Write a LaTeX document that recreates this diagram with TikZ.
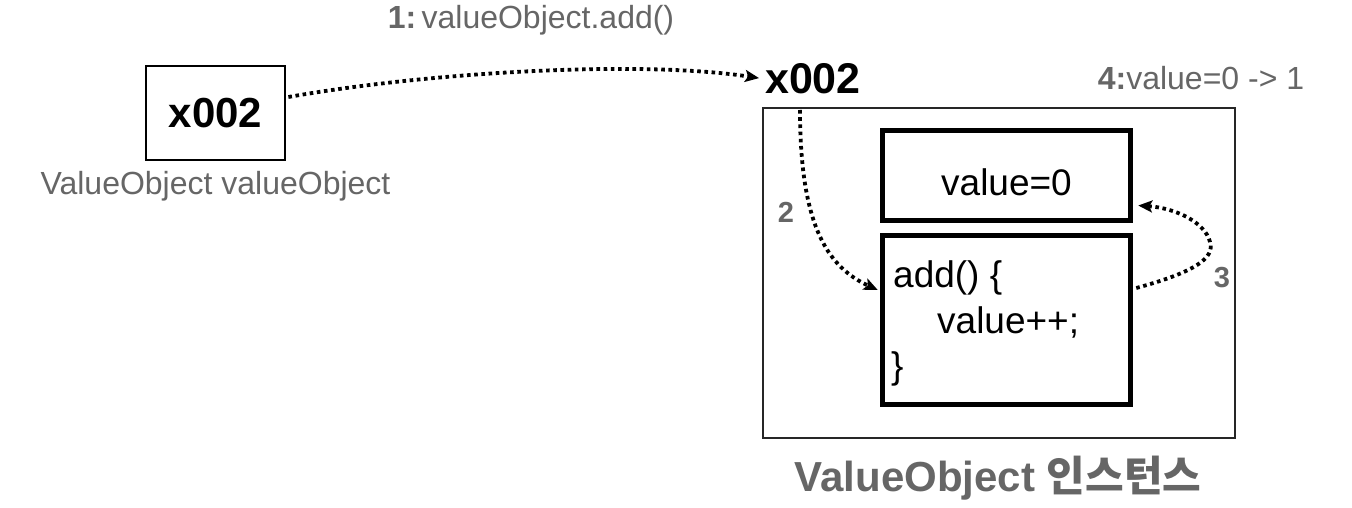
\documentclass[tikz,border=0pt]{standalone}
\usepackage{fontspec}
\setmainfont{Liberation Sans}
\newfontfamily\kr{Noto Sans CJK KR Bold}
\usetikzlibrary{arrows.meta,calc}
\definecolor{txtgray}{HTML}{666666}
\tikzset{
  thickbox/.style={draw=black, line width=5.5pt, minimum width=248pt, inner sep=0pt},
  refbox/.style={draw=black, line width=2.8pt, minimum width=139pt, minimum height=94pt, inner sep=0pt,
    font=\fontsize{42}{48}\selectfont\bfseries},
  graytxt/.style={text=txtgray, inner sep=0pt, font=\fontsize{32}{38}\selectfont},
  codetxt/.style={inner sep=0pt, font=\fontsize{37}{44}\selectfont},
  flow/.style={draw=black, line width=3.8pt, dash pattern=on 3.6pt off 3.6pt,
    -{Stealth[length=14pt,width=12pt,inset=3pt]}},
  numlbl/.style={text=txtgray, inner sep=0pt, font=\fontsize{29}{34}\selectfont\bfseries}
}
\begin{document}
\begin{tikzpicture}[x=1pt,y=-1pt]
\useasboundingbox (0,0) rectangle (1352,508);
% left reference box
\node[refbox] (ref) at (215.5,113) {x002};
\node[graytxt] (refname) at (215.5,186) {ValueObject valueObject};
% step 1 label
\node[graytxt] (lbl1) at (531,20) {\textbf{1:}\,valueObject.add()};
% address above instance
\node[inner sep=0pt, font=\fontsize{43}{48}\selectfont\bfseries] (addr) at (813,79) {x002};
\node[graytxt] (lbl4) at (1201,78) {\textbf{4:}value=0 -> 1};
% instance outer box
\node[draw=black!85, line width=1.3pt, minimum width=472pt, minimum height=330pt, inner sep=0pt] (inst) at (999,273) {};
% field box
\node[thickbox, minimum height=90pt] (val) at (1006.5,175.5) {};
\node[codetxt] (valtxt) at (1006.5,182) {value=0};
% method box
\node[thickbox, minimum height=169pt] (meth) at (1006.5,320) {};
\node[codetxt, anchor=base west] (c1) at (893,287) {add() \{};
\node[codetxt, anchor=base west] (c2) at (937,333) {value++;};
\node[codetxt, anchor=base west] (c3) at (891,378) {\}};
% title
\node[text=txtgray, inner sep=0pt, font=\fontsize{42}{48}\selectfont\bfseries] (title) at (998,478) {ValueObject {\kr 인스턴스}};
% connectors
\draw[flow, shorten >=6pt] (ref.east) ++(2,-16) coordinate (s1)
  (s1) .. controls (430,72) and (640,60) .. (addr.west);
\coordinate (s2) at (800,110);
\coordinate (e2) at ($(meth.west)+(-2,-30)$);
\draw[flow] (s2) .. controls (800,230) and (830,268) .. (e2);
\coordinate (s3) at ($(meth.east)+(3,-32)$);
\coordinate (m3) at (1210,242);
\coordinate (e3) at ($(val.east)+(5,30)$);
\draw[flow] (s3) .. controls (1195,272) and (1215,258) .. (m3)
  .. controls (1205,222) and (1175,208) .. (e3);
\node[numlbl] (n2) at (786,212) {2};
\node[numlbl] (n3) at (1222,278) {3};
\end{tikzpicture}
\end{document}
